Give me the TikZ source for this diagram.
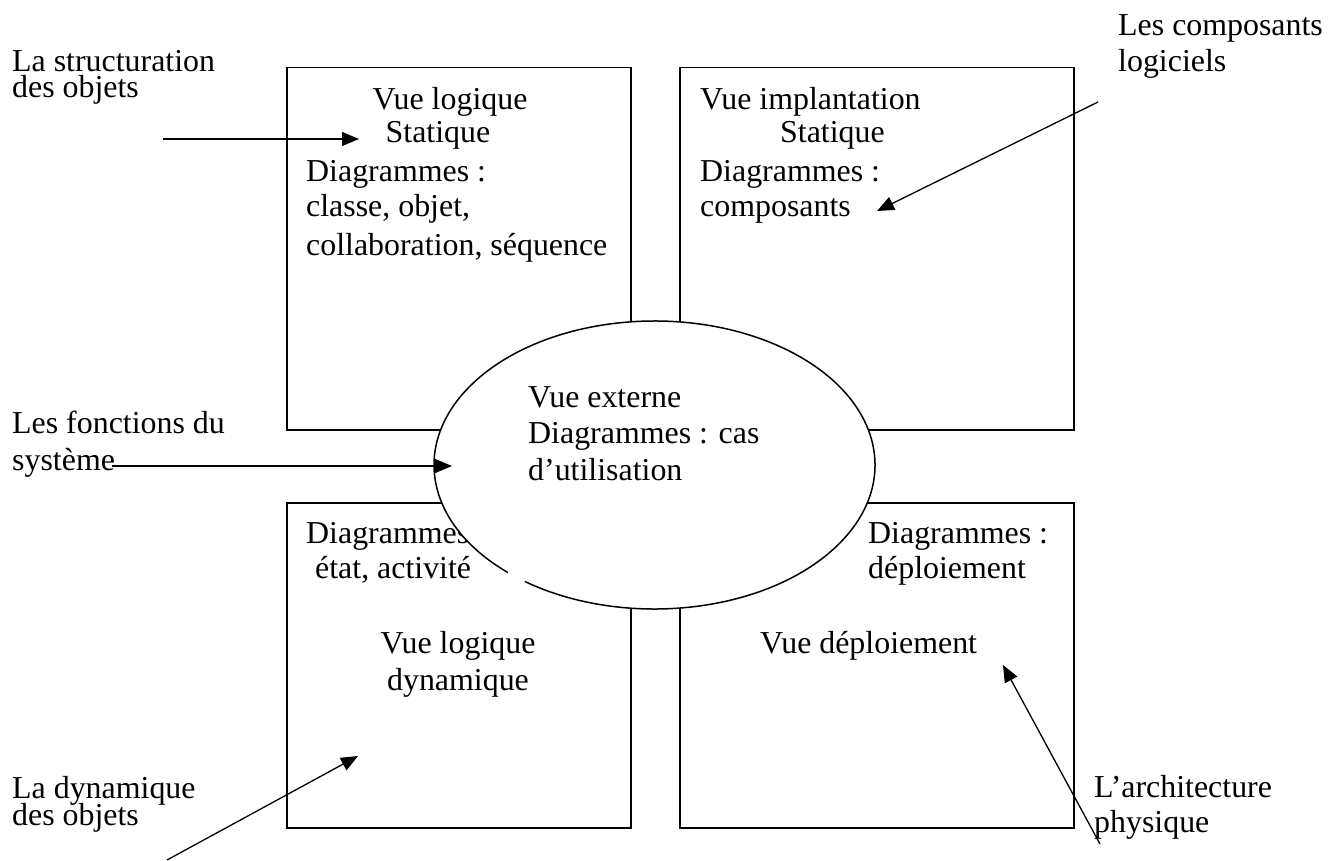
\documentclass[tikz,border=0pt]{standalone}
\usepackage{fontspec}
\setmainfont{Liberation Serif}
\usetikzlibrary{arrows.meta,shapes.geometric}
\begin{document}
\begin{tikzpicture}[x=1pt,y=1pt,
  txt/.style={anchor=base west,inner sep=0pt,font=\fontsize{31.9}{36}\selectfont},
  txtc/.style={anchor=base,inner sep=0pt,font=\fontsize{31.9}{36}\selectfont},
  viewbox/.style={draw,line width=1.5pt,inner sep=0pt,anchor=north west},
  arr/.style={line width=1.3pt,-{Triangle[length=17pt,width=14pt]}}]
\useasboundingbox (0,0) rectangle (1339,-861);

% boxes
\node[viewbox,minimum width=344pt,minimum height=362pt] (tl) at (286,-67) {};
\node[viewbox,minimum width=394pt,minimum height=362pt] (tr) at (679,-67) {};
\node[viewbox,minimum width=344pt,minimum height=325pt] (bl) at (286,-502) {};
\node[viewbox,minimum width=394pt,minimum height=325pt] (br) at (679,-502) {};

% top-left box
\node[txtc] (tl1) at (450,-110) {Vue logique};
\node[txtc] (tl2) at (438,-143) {Statique};
\node[txt] (tl3) at (306,-182) {Diagrammes :};
\node[txt] (tl4) at (306,-217) {classe, objet,};
\node[txt] (tl5) at (306,-255) {collaboration, séquence};

% top-right box
\node[txt] (tr1) at (700,-110) {Vue implantation};
\node[txt] (tr2) at (780,-143) {Statique};
\node[txt] (tr3) at (700,-182) {Diagrammes :};
\node[txt] (tr4) at (700,-217) {composants};

% bottom-left box
\node[txt] (bl1) at (306,-543) {Diagrammes :};
\node[txt] (bl2) at (315,-578) {état, activité};
\node[txtc] (bl3) at (458,-653) {Vue logique};
\node[txtc] (bl4) at (458,-690) {dynamique};

% bottom-right box
\node[txt] (br1) at (868,-543) {Diagrammes :};
\node[txt] (br2) at (868,-578) {déploiement};
\node[txt] (br3) at (760,-653) {Vue déploiement};

% central ellipse
\node[ellipse,fill=white,minimum width=441pt,minimum height=288pt,inner sep=0pt] (ext) at (654.5,-465) {};
\draw[line width=1.5pt] ([shift={(234:220.5 and 144)}]ext.center)
  arc[start angle=234,end angle=588.3,x radius=220.5pt,y radius=144pt];
\node[txt] (e1) at (528,-407) {Vue externe};
\node[txt] (e2) at (528,-443) {Diagrammes : cas};
\node[txt] (e3) at (528,-480) {d’utilisation};

% outside labels
\node[txt] (l1a) at (12,-72) {La structuration};
\node[txt] (l1b) at (12,-98) {des objets};
\node[txt] (l2a) at (12,-433) {Les fonctions du};
\node[txt] (l2b) at (12,-470) {système};
\node[txt] (l3a) at (12,-798) {La dynamique};
\node[txt] (l3b) at (12,-825) {des objets};
\node[txt] (r1a) at (1118,-36) {Les composants};
\node[txt] (r1b) at (1118,-72) {logiciels};
\node[txt] (r2a) at (1094,-797) {L’architecture};
\node[txt] (r2b) at (1094,-832) {physique};

% arrow ends
\coordinate (a1s) at (163,-139);  \coordinate (a1e) at (359,-139);
\coordinate (a2s) at (112,-466);  \coordinate (a2e) at (452,-466);
\coordinate (a3s) at (167,-860);  \coordinate (a3e) at (358,-756);
\coordinate (a4s) at (1098,-102); \coordinate (a4e) at (877,-211);
\coordinate (a5s) at (1100,-844); \coordinate (a5e) at (1003,-665);

\draw[arr] (a1s) -- (a1e);
\draw[arr] (a2s) -- (a2e);
\draw[arr] (a3s) -- (a3e);
\draw[arr] (a4s) -- (a4e);
\draw[arr] (a5s) -- (a5e);
\end{tikzpicture}
\end{document}
